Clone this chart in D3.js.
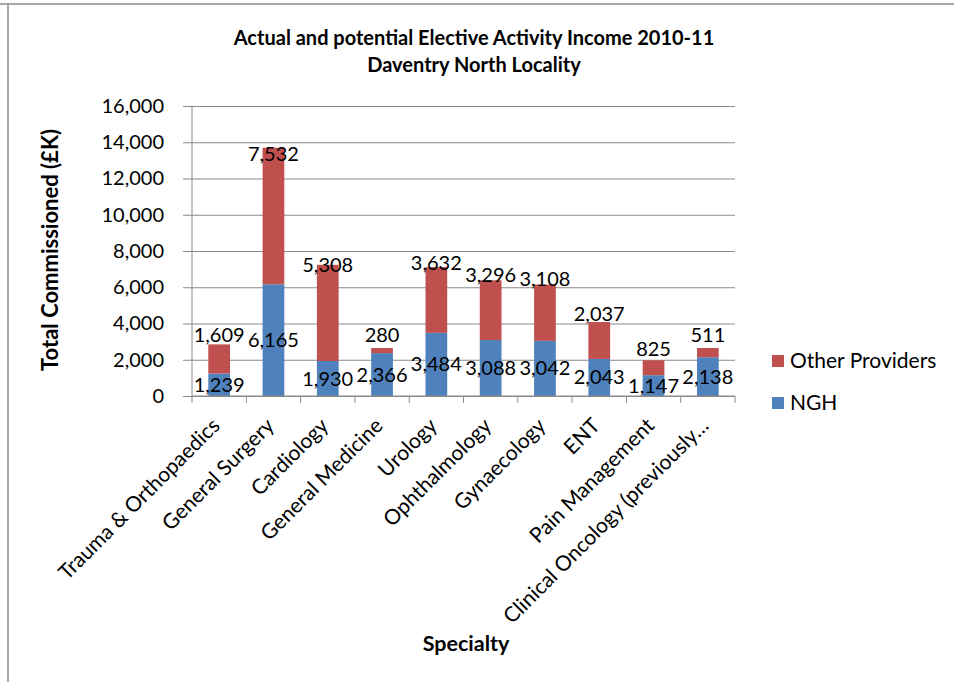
<!DOCTYPE html>
<html>
<head>
<meta charset="utf-8">
<script src="https://cdn.jsdelivr.net/npm/d3@7"></script>
<style>
  html, body { margin: 0; padding: 0; background: #fff; }
  svg { display: block; }
  text { font-family: Lato, "Noto Sans", sans-serif; fill: #000; }
</style>
</head>
<body>
<svg id="chart" width="954" height="682"></svg>
<script>
// Elective activity income by specialty, £K
const categories = [
  "Trauma & Orthopaedics", "General Surgery", "Cardiology", "General Medicine",
  "Urology", "Ophthalmology", "Gynaecology", "ENT", "Pain Management",
  "Clinical Oncology (previously\u2026"
];
const ngh = [1239, 6165, 1930, 2366, 3484, 3088, 3042, 2043, 1147, 2138];
const otherProviders = [1609, 7532, 5308, 280, 3632, 3296, 3108, 2037, 825, 511];
const seriesNames = ["NGH", "Other Providers"];
const yTicks = [0, 2000, 4000, 6000, 8000, 10000, 12000, 14000, 16000];
const titleLines = ["Actual and potential Elective Activity Income 2010-11", "Daventry North Locality"];
const yTitle = "Total Commissioned (\u00a3K)";
const xTitle = "Specialty";

const colors = { "NGH": "#4F81BD", "Other Providers": "#C0504D" };
const gridColor = "#8a8a8a";

const svg = d3.select("#chart");

// outer frame of the chart object
svg.append("line").attr("x1", 0).attr("x2", 954).attr("y1", 4).attr("y2", 4)
  .attr("stroke", "#8c8c8c").attr("stroke-width", 1.5);
svg.append("line").attr("x1", 8).attr("x2", 8).attr("y1", 4).attr("y2", 682)
  .attr("stroke", "#8c8c8c").attr("stroke-width", 1.5);

const plot = { left: 192, right: 735, top: 106, bottom: 396 };

const x = d3.scaleBand().domain(categories)
  .range([plot.left, plot.right]).paddingInner(0.6).paddingOuter(0.3);
const y = d3.scaleLinear().domain([0, 16000]).range([plot.bottom, plot.top]);

const rows = categories.map((c, i) => ({ cat: c, "NGH": ngh[i], "Other Providers": otherProviders[i] }));
const stacked = d3.stack().keys(seriesNames)(rows);

// horizontal gridlines with left tick marks
const yAxis = d3.axisLeft(y).tickValues(yTicks).tickFormat(d3.format(","))
  .tickSize(-(plot.right - plot.left)).tickPadding(20);
const gy = svg.append("g").attr("transform", `translate(${plot.left},0)`).call(yAxis);
gy.select(".domain").remove();
gy.selectAll(".tick line").attr("stroke", gridColor).attr("stroke-width", 1)
  .attr("x1", -9);
gy.selectAll(".tick text").attr("font-size", 20).attr("font-family", "Lato, sans-serif")
  .attr("fill", "#000").attr("x", -28);

// vertical axis line
svg.append("line").attr("x1", plot.left).attr("x2", plot.left)
  .attr("y1", plot.top).attr("y2", plot.bottom)
  .attr("stroke", gridColor).attr("stroke-width", 1);

// stacked bars
svg.append("g").selectAll("g").data(stacked).join("g")
  .attr("fill", s => colors[s.key])
  .selectAll("rect").data(s => s).join("rect")
  .attr("x", d => x(d.data.cat))
  .attr("width", x.bandwidth())
  .attr("y", d => y(d[1]))
  .attr("height", d => y(d[0]) - y(d[1]));

// category axis with boundary ticks
const step = x.step();
const half = (step - x.bandwidth()) / 2;
const bounds = categories.map(c => x(c) - half).concat([x(categories[categories.length - 1]) + x.bandwidth() + half]);
svg.append("line").attr("x1", plot.left).attr("x2", plot.right)
  .attr("y1", plot.bottom).attr("y2", plot.bottom)
  .attr("stroke", gridColor).attr("stroke-width", 1.2);
svg.append("g").selectAll("line").data(bounds).join("line")
  .attr("x1", d => d).attr("x2", d => d)
  .attr("y1", plot.bottom).attr("y2", plot.bottom + 7)
  .attr("stroke", gridColor).attr("stroke-width", 1);

// rotated category labels
svg.append("g").selectAll("text").data(categories).join("text")
  .attr("transform", c => `translate(${x(c) + x.bandwidth() / 2 + 2},${plot.bottom + 31}) rotate(-45)`)
  .attr("text-anchor", "end")
  .attr("font-size", 21)
  .text(c => c);

// value labels: NGH centred in its segment
const fmt = d3.format(",");
svg.append("g").selectAll("text").data(stacked[0]).join("text")
  .attr("x", d => x(d.data.cat) + x.bandwidth() / 2)
  .attr("y", d => (y(d[0]) + y(d[1])) / 2)
  .attr("dy", "0.35em")
  .attr("text-anchor", "middle")
  .attr("font-size", 20)
  .text(d => fmt(d.data["NGH"]));

// Other Providers labels ride on the top of each stack, sinking slightly into taller segments
svg.append("g").selectAll("text").data(stacked[1]).join("text")
  .attr("x", d => x(d.data.cat) + x.bandwidth() / 2)
  .attr("y", d => {
    const h = y(d[0]) - y(d[1]);
    return y(d[1]) - 14 + 0.15 * h;
  })
  .attr("dy", "0.35em")
  .attr("text-anchor", "middle")
  .attr("font-size", 20)
  .text(d => fmt(d.data["Other Providers"]));

// title
svg.append("g").selectAll("text").data(titleLines).join("text")
  .attr("x", 474).attr("y", (d, i) => 38 + i * 27)
  .attr("dy", "0.35em")
  .attr("text-anchor", "middle")
  .attr("font-weight", "bold")
  .attr("font-size", 20)
  .text(d => d);

// axis titles
svg.append("text")
  .attr("transform", "translate(50,250) rotate(-90)")
  .attr("text-anchor", "middle").attr("dy", "0.35em")
  .attr("font-weight", "bold").attr("font-size", 22)
  .text(yTitle);
svg.append("text")
  .attr("x", 466).attr("y", 643).attr("dy", "0.35em")
  .attr("text-anchor", "middle")
  .attr("font-weight", "bold").attr("font-size", 21.5)
  .text(xTitle);

// legend, top entry is the upper series
const legendItems = ["Other Providers", "NGH"];
const lg = svg.append("g").selectAll("g").data(legendItems).join("g")
  .attr("transform", (d, i) => `translate(772,${355 + i * 42})`);
lg.append("rect").attr("width", 12).attr("height", 12).attr("fill", d => colors[d]);
lg.append("text").attr("x", 18).attr("y", 6).attr("dy", "0.35em")
  .attr("font-size", 21).text(d => d);
</script>
</body>
</html>
